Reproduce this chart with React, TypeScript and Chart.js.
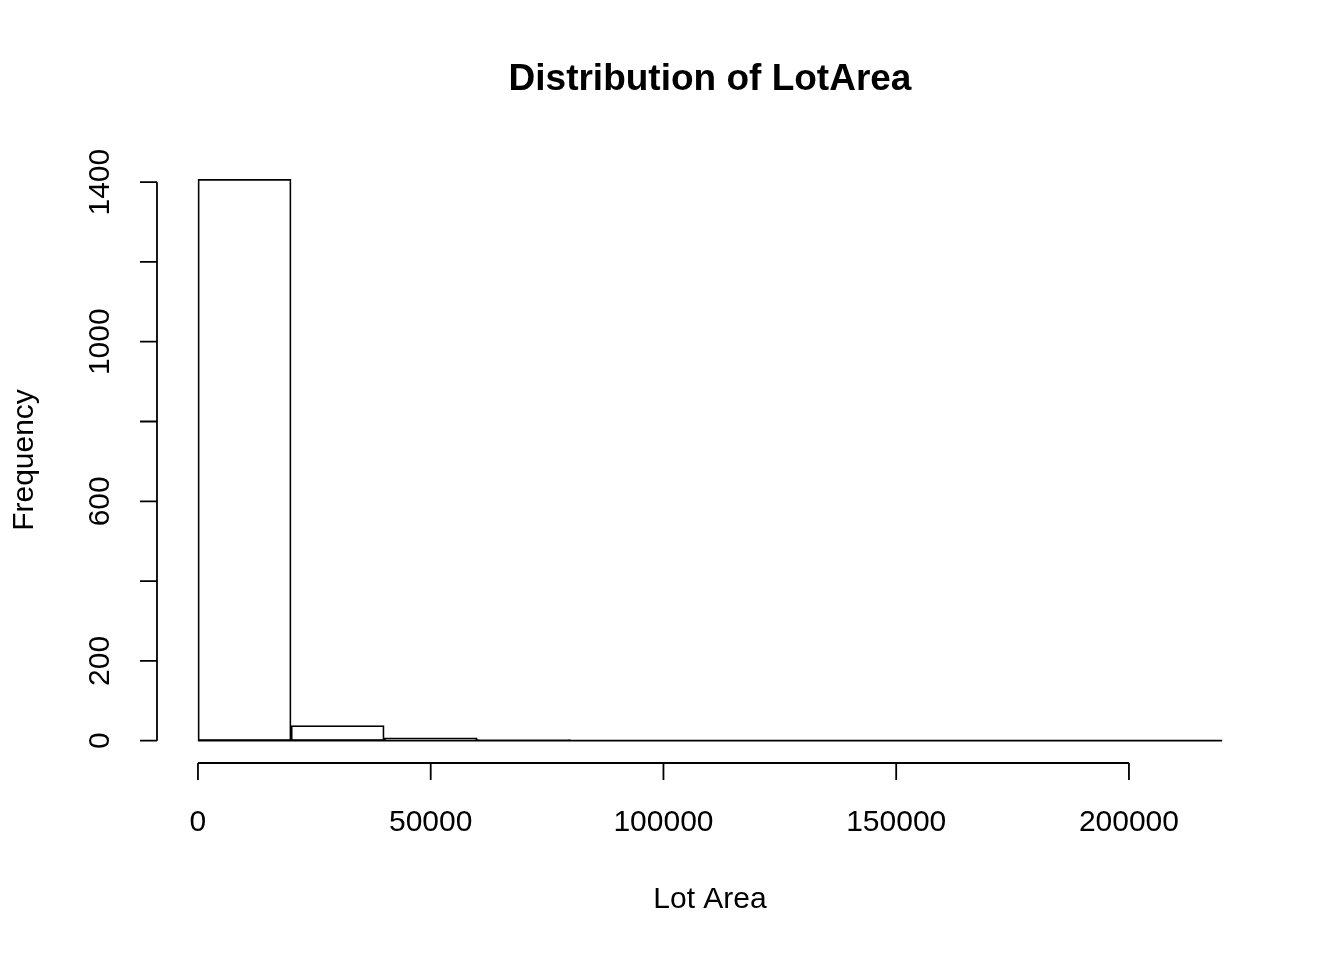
import React, { useEffect, useRef } from "react";
import { Chart, registerables } from "chart.js";
Chart.register(...registerables);

const binStarts = [0, 20000, 40000, 60000, 80000, 100000, 120000, 140000, 160000, 180000, 200000];
const binWidth = 20000;
const counts = [1407, 38, 7, 3, 0, 1, 0, 1, 1, 0, 1];
const xTicks = [0, 50000, 100000, 150000, 200000];
const yTicks = [0, 200, 400, 600, 800, 1000, 1200, 1400];
const yLabelTicks = [0, 200, 600, 1000, 1400];

const FONT = "'Liberation Sans', Arial, sans-serif";

const axesPlugin = {
  id: "rAxes",
  afterDraw(chart: any) {
    const ctx = chart.ctx;
    const xs = chart.scales.x, ys = chart.scales.y;
    const ca = chart.chartArea;
    ctx.save();
    ctx.strokeStyle = "#000";
    ctx.fillStyle = "#000";
    ctx.lineWidth = 1.8;
    ctx.beginPath();
    ctx.moveTo(xs.getPixelForValue(0), ys.getPixelForValue(0));
    ctx.lineTo(xs.getPixelForValue(220000), ys.getPixelForValue(0));
    ctx.stroke();
    const ax = ca.left;
    ctx.beginPath();
    ctx.moveTo(ax, ys.getPixelForValue(0));
    ctx.lineTo(ax, ys.getPixelForValue(1400));
    yTicks.forEach((t) => {
      const p = ys.getPixelForValue(t);
      ctx.moveTo(ax, p);
      ctx.lineTo(ax - 17, p);
    });
    ctx.stroke();
    ctx.font = `30px ${FONT}`;
    ctx.textAlign = "center";
    ctx.textBaseline = "middle";
    yLabelTicks.forEach((t) => {
      const p = ys.getPixelForValue(t);
      ctx.save();
      ctx.translate(101, p);
      ctx.rotate(-Math.PI / 2);
      ctx.fillText(String(t), 0, 0);
      ctx.restore();
    });
    const ay = ca.bottom;
    ctx.beginPath();
    ctx.moveTo(xs.getPixelForValue(0), ay);
    ctx.lineTo(xs.getPixelForValue(200000), ay);
    xTicks.forEach((t) => {
      const p = xs.getPixelForValue(t);
      ctx.moveTo(p, ay);
      ctx.lineTo(p, ay + 17);
    });
    ctx.stroke();
    xTicks.forEach((t) => {
      ctx.fillText(String(t), xs.getPixelForValue(t), 823);
    });
    ctx.fillText("Lot Area", (ca.left + ca.right) / 2, 900);
    ctx.save();
    ctx.translate(25, (ca.top + ca.bottom) / 2);
    ctx.rotate(-Math.PI / 2);
    ctx.fillText("Frequency", 0, 0);
    ctx.restore();
    ctx.font = `bold 37px ${FONT}`;
    ctx.fillText("Distribution of LotArea", (ca.left + ca.right) / 2, 80);
    ctx.restore();
  },
};

export default function App() {
  const ref = useRef<HTMLCanvasElement>(null);
  useEffect(() => {
    document.body.style.margin = "0";
    const data = binStarts.map((s, i) => ({ x: s + binWidth / 2, y: counts[i] }));
    const chart = new Chart(ref.current!, {
      type: "bar",
      data: {
        datasets: [
          {
            data: data as any,
            backgroundColor: "#fff",
            borderColor: "#000",
            borderWidth: 1.8,
            borderSkipped: false,
            barPercentage: 1,
            categoryPercentage: 1,
          },
        ],
      },
      options: {
        animation: false,
        responsive: false,
        layout: { padding: { left: 157, right: 81, top: 157, bottom: 197 } },
        plugins: { legend: { display: false }, tooltip: { enabled: false } },
        scales: {
          x: { type: "linear", min: -8800, max: 228800, display: false, offset: false },
          y: { min: -56, max: 1463, display: false },
        },
      },
      plugins: [axesPlugin],
    });
    return () => chart.destroy();
  }, []);
  return <canvas ref={ref} width={1344} height={960} style={{ display: "block" }} />;
}
